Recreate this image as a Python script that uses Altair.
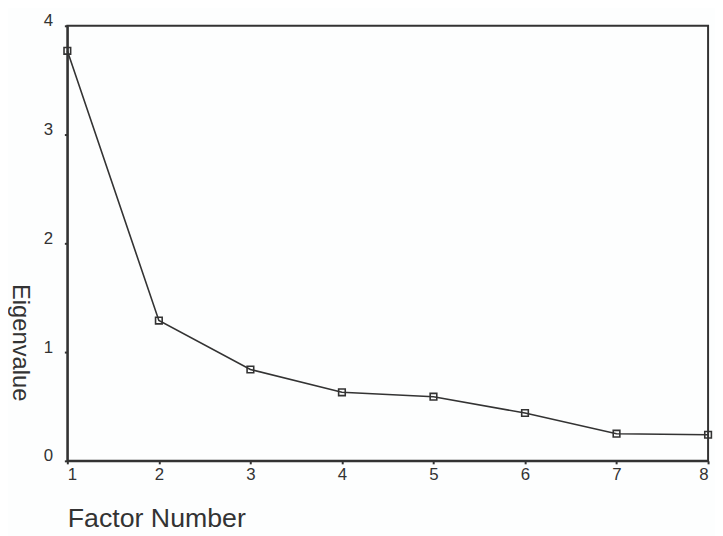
import altair as alt
import pandas as pd

factors = [1, 2, 3, 4, 5, 6, 7, 8]
eigenvalues = [3.77, 1.29, 0.84, 0.63, 0.59, 0.44, 0.25, 0.24]
x_ticks = [1, 2, 3, 4, 5, 6, 7, 8]
y_ticks = [0, 1, 2, 3, 4]

df = pd.DataFrame({"factor": factors, "eigen": eigenvalues})

ink = "#333333"
font = "Liberation Sans"

x = alt.X("factor:Q", scale=alt.Scale(domain=[1, 8], nice=False, zero=False),
          axis=alt.Axis(values=x_ticks, title="Factor Number", grid=False,
                        format="d", labelFontSize=17, labelPadding=3,
                        tickSize=3, tickWidth=2, domainWidth=2,
                        titleFontSize=27, titleFontWeight="normal",
                        titleAlign="left", titleAnchor="start", titleX=0, titleY=66,
                        titleBaseline="alphabetic"))
y = alt.Y("eigen:Q", scale=alt.Scale(domain=[0, 4], nice=False),
          axis=alt.Axis(values=y_ticks, title="Eigenvalue", grid=False,
                        format="d", labelFontSize=17, labelPadding=12,
                        labelBaseline="alphabetic", labelAlign="right",
                        tickSize=3, tickWidth=2, domainWidth=2,
                        titleFontSize=24, titleFontWeight="normal",
                        titleAngle=90, titleAlign="center", titleBaseline="middle",
                        titleX=-48, titleY=320))

line = alt.Chart(df).mark_line(color=ink, strokeWidth=1.6).encode(x=x, y=y)
pts = alt.Chart(df).mark_point(shape="square", filled=False, color=ink,
                               size=45, strokeWidth=1.6, opacity=1).encode(x=x, y=y)

chart = (line + pts).properties(
    width=648, height=440,
    autosize=alt.AutoSizeParams(type="none"),
    padding={"left": 60, "top": 15, "right": 7, "bottom": 73},
    background="#fdfefe",
).configure_view(stroke=ink, strokeWidth=2).configure_axis(
    domainColor=ink, tickColor=ink, labelColor=ink, titleColor=ink,
    labelFont=font, titleFont=font,
)

chart.save("out.html", embed_options={"renderer": "svg", "actions": False})
